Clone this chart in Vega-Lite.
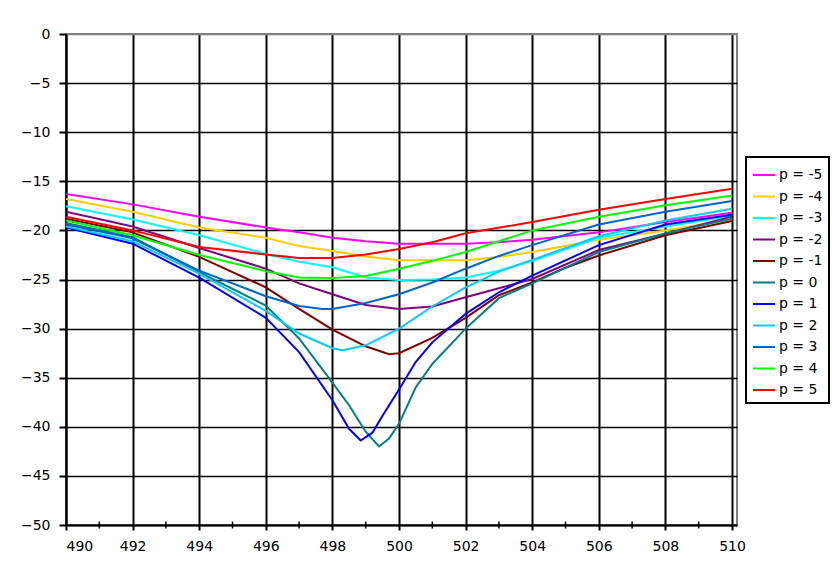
{
  "$schema": "https://vega.github.io/schema/vega-lite/v6.json",
  "width": 671,
  "height": 491,
  "autosize": {"type": "none"},
  "padding": {"left": 66, "top": 34, "right": 95, "bottom": 42},
  "background": "white",
  "config": {
    "font": "DejaVu Sans",
    "view": {"stroke": "#808080", "strokeWidth": 2},
    "legend": {"strokeColor": "black", "strokeWidth": 2},
    "axis": {
      "labelFont": "DejaVu Sans",
      "labelFontSize": 14,
      "labelColor": "black",
      "domainColor": "black",
      "domainWidth": 2,
      "tickColor": "black",
      "tickWidth": 2,
      "gridColor": "black",
      "gridOpacity": 1,
      "title": null
    }
  },
  "datasets": {
    "curves": [
      {"series": "p = -5", "x": 490, "y": -16.3}, {"series": "p = -5", "x": 492, "y": -17.35}, {"series": "p = -5", "x": 494, "y": -18.6}, {"series": "p = -5", "x": 496, "y": -19.7}, {"series": "p = -5", "x": 497, "y": -20.2}, {"series": "p = -5", "x": 498, "y": -20.75}, {"series": "p = -5", "x": 499, "y": -21.1}, {"series": "p = -5", "x": 500, "y": -21.35}, {"series": "p = -5", "x": 501, "y": -21.35}, {"series": "p = -5", "x": 502, "y": -21.35}, {"series": "p = -5", "x": 503, "y": -21.2}, {"series": "p = -5", "x": 504, "y": -20.95}, {"series": "p = -5", "x": 506, "y": -20.2}, {"series": "p = -5", "x": 508, "y": -19.15}, {"series": "p = -5", "x": 510, "y": -18.2},

      {"series": "p = -4", "x": 490, "y": -16.8}, {"series": "p = -4", "x": 492, "y": -18.1}, {"series": "p = -4", "x": 494, "y": -19.7}, {"series": "p = -4", "x": 496, "y": -20.75}, {"series": "p = -4", "x": 497, "y": -21.6}, {"series": "p = -4", "x": 498, "y": -22.1}, {"series": "p = -4", "x": 499, "y": -22.65}, {"series": "p = -4", "x": 500, "y": -23.05}, {"series": "p = -4", "x": 501, "y": -23.05}, {"series": "p = -4", "x": 502, "y": -23.05}, {"series": "p = -4", "x": 503, "y": -22.7}, {"series": "p = -4", "x": 504, "y": -22.2}, {"series": "p = -4", "x": 506, "y": -20.95}, {"series": "p = -4", "x": 508, "y": -20.0}, {"series": "p = -4", "x": 510, "y": -18.9},

      {"series": "p = -3", "x": 490, "y": -17.55}, {"series": "p = -3", "x": 492, "y": -18.9}, {"series": "p = -3", "x": 494, "y": -20.5}, {"series": "p = -3", "x": 496, "y": -22.4}, {"series": "p = -3", "x": 497, "y": -23.2}, {"series": "p = -3", "x": 498, "y": -23.75}, {"series": "p = -3", "x": 499, "y": -24.8}, {"series": "p = -3", "x": 500, "y": -25.05}, {"series": "p = -3", "x": 501, "y": -25.0}, {"series": "p = -3", "x": 502, "y": -24.8}, {"series": "p = -3", "x": 503, "y": -24.1}, {"series": "p = -3", "x": 504, "y": -23.1}, {"series": "p = -3", "x": 506, "y": -20.75}, {"series": "p = -3", "x": 508, "y": -19.6}, {"series": "p = -3", "x": 510, "y": -18.5},

      {"series": "p = -2", "x": 490, "y": -18.1}, {"series": "p = -2", "x": 492, "y": -19.6}, {"series": "p = -2", "x": 494, "y": -21.8}, {"series": "p = -2", "x": 496, "y": -23.9}, {"series": "p = -2", "x": 497, "y": -25.4}, {"series": "p = -2", "x": 498, "y": -26.5}, {"series": "p = -2", "x": 499, "y": -27.6}, {"series": "p = -2", "x": 500, "y": -28.0}, {"series": "p = -2", "x": 501, "y": -27.75}, {"series": "p = -2", "x": 502, "y": -26.8}, {"series": "p = -2", "x": 503, "y": -25.9}, {"series": "p = -2", "x": 504, "y": -24.95}, {"series": "p = -2", "x": 506, "y": -22.0}, {"series": "p = -2", "x": 508, "y": -20.35}, {"series": "p = -2", "x": 510, "y": -18.6},

      {"series": "p = -1", "x": 490, "y": -18.8}, {"series": "p = -1", "x": 492, "y": -20.2}, {"series": "p = -1", "x": 494, "y": -22.7}, {"series": "p = -1", "x": 496, "y": -25.8}, {"series": "p = -1", "x": 497, "y": -28.0}, {"series": "p = -1", "x": 498, "y": -30.1}, {"series": "p = -1", "x": 499, "y": -31.8}, {"series": "p = -1", "x": 499.7, "y": -32.6}, {"series": "p = -1", "x": 500, "y": -32.5}, {"series": "p = -1", "x": 501, "y": -30.95}, {"series": "p = -1", "x": 502, "y": -28.9}, {"series": "p = -1", "x": 503, "y": -26.6}, {"series": "p = -1", "x": 504, "y": -25.3}, {"series": "p = -1", "x": 505, "y": -23.8}, {"series": "p = -1", "x": 506, "y": -22.55}, {"series": "p = -1", "x": 508, "y": -20.5}, {"series": "p = -1", "x": 510, "y": -19.05},

      {"series": "p = 0", "x": 490, "y": -19.25}, {"series": "p = 0", "x": 492, "y": -20.7}, {"series": "p = 0", "x": 494, "y": -24.25}, {"series": "p = 0", "x": 496, "y": -27.65}, {"series": "p = 0", "x": 497, "y": -31.0}, {"series": "p = 0", "x": 498, "y": -35.5}, {"series": "p = 0", "x": 498.5, "y": -37.8}, {"series": "p = 0", "x": 499, "y": -40.5}, {"series": "p = 0", "x": 499.4, "y": -42.0}, {"series": "p = 0", "x": 499.7, "y": -41.2}, {"series": "p = 0", "x": 500, "y": -39.7}, {"series": "p = 0", "x": 500.5, "y": -36.0}, {"series": "p = 0", "x": 501, "y": -33.6}, {"series": "p = 0", "x": 502, "y": -30.0}, {"series": "p = 0", "x": 503, "y": -26.9}, {"series": "p = 0", "x": 504, "y": -25.4}, {"series": "p = 0", "x": 506, "y": -22.2}, {"series": "p = 0", "x": 508, "y": -20.3}, {"series": "p = 0", "x": 510, "y": -18.8},

      {"series": "p = 1", "x": 490, "y": -19.7}, {"series": "p = 1", "x": 492, "y": -21.35}, {"series": "p = 1", "x": 494, "y": -24.8}, {"series": "p = 1", "x": 496, "y": -28.9}, {"series": "p = 1", "x": 497, "y": -32.4}, {"series": "p = 1", "x": 498, "y": -37.3}, {"series": "p = 1", "x": 498.5, "y": -40.2}, {"series": "p = 1", "x": 498.85, "y": -41.4}, {"series": "p = 1", "x": 499.2, "y": -40.6}, {"series": "p = 1", "x": 499.5, "y": -38.9}, {"series": "p = 1", "x": 500, "y": -36.2}, {"series": "p = 1", "x": 500.5, "y": -33.4}, {"series": "p = 1", "x": 501, "y": -31.4}, {"series": "p = 1", "x": 502, "y": -28.5}, {"series": "p = 1", "x": 503, "y": -26.3}, {"series": "p = 1", "x": 504, "y": -24.6}, {"series": "p = 1", "x": 506, "y": -21.5}, {"series": "p = 1", "x": 508, "y": -19.4}, {"series": "p = 1", "x": 510, "y": -18.4},

      {"series": "p = 2", "x": 490, "y": -19.6}, {"series": "p = 2", "x": 492, "y": -21.1}, {"series": "p = 2", "x": 494, "y": -24.4}, {"series": "p = 2", "x": 496, "y": -28.2}, {"series": "p = 2", "x": 497, "y": -30.5}, {"series": "p = 2", "x": 498, "y": -32.0}, {"series": "p = 2", "x": 498.3, "y": -32.2}, {"series": "p = 2", "x": 499, "y": -31.7}, {"series": "p = 2", "x": 500, "y": -30.0}, {"series": "p = 2", "x": 501, "y": -27.75}, {"series": "p = 2", "x": 502, "y": -25.8}, {"series": "p = 2", "x": 503, "y": -24.2}, {"series": "p = 2", "x": 504, "y": -23.0}, {"series": "p = 2", "x": 506, "y": -20.6}, {"series": "p = 2", "x": 508, "y": -19.0}, {"series": "p = 2", "x": 510, "y": -17.8},

      {"series": "p = 3", "x": 490, "y": -19.4}, {"series": "p = 3", "x": 492, "y": -20.8}, {"series": "p = 3", "x": 494, "y": -24.1}, {"series": "p = 3", "x": 496, "y": -26.7}, {"series": "p = 3", "x": 497, "y": -27.7}, {"series": "p = 3", "x": 497.7, "y": -28.0}, {"series": "p = 3", "x": 498, "y": -28.0}, {"series": "p = 3", "x": 499, "y": -27.4}, {"series": "p = 3", "x": 500, "y": -26.5}, {"series": "p = 3", "x": 501, "y": -25.3}, {"series": "p = 3", "x": 502, "y": -23.9}, {"series": "p = 3", "x": 503, "y": -22.6}, {"series": "p = 3", "x": 504, "y": -21.5}, {"series": "p = 3", "x": 506, "y": -19.4}, {"series": "p = 3", "x": 508, "y": -18.1}, {"series": "p = 3", "x": 510, "y": -17.0},

      {"series": "p = 4", "x": 490, "y": -19.0}, {"series": "p = 4", "x": 492, "y": -20.5}, {"series": "p = 4", "x": 494, "y": -22.5}, {"series": "p = 4", "x": 496, "y": -24.15}, {"series": "p = 4", "x": 497, "y": -24.8}, {"series": "p = 4", "x": 498, "y": -24.85}, {"series": "p = 4", "x": 499, "y": -24.65}, {"series": "p = 4", "x": 500, "y": -23.9}, {"series": "p = 4", "x": 501, "y": -23.1}, {"series": "p = 4", "x": 502, "y": -22.2}, {"series": "p = 4", "x": 504, "y": -20.0}, {"series": "p = 4", "x": 506, "y": -18.6}, {"series": "p = 4", "x": 508, "y": -17.45}, {"series": "p = 4", "x": 510, "y": -16.45},

      {"series": "p = 5", "x": 490, "y": -18.6}, {"series": "p = 5", "x": 492, "y": -20.0}, {"series": "p = 5", "x": 494, "y": -21.7}, {"series": "p = 5", "x": 496, "y": -22.45}, {"series": "p = 5", "x": 497, "y": -22.8}, {"series": "p = 5", "x": 498, "y": -22.8}, {"series": "p = 5", "x": 499, "y": -22.45}, {"series": "p = 5", "x": 500, "y": -21.9}, {"series": "p = 5", "x": 501, "y": -21.2}, {"series": "p = 5", "x": 502, "y": -20.3}, {"series": "p = 5", "x": 504, "y": -19.15}, {"series": "p = 5", "x": 506, "y": -17.9}, {"series": "p = 5", "x": 508, "y": -16.8}, {"series": "p = 5", "x": 510, "y": -15.75}
    ],
    "minorTicks": [
      {"x": 491}, {"x": 493}, {"x": 495}, {"x": 497}, {"x": 499},
      {"x": 501}, {"x": 503}, {"x": 505}, {"x": 507}, {"x": 509}
    ]
  },
  "layer": [
    {
      "data": {"name": "curves"},
      "mark": {"type": "line", "clip": true},
      "encoding": {
        "x": {
          "field": "x",
          "type": "quantitative",
          "scale": {"domain": [490, 510.15], "nice": false, "zero": false},
          "axis": {
            "values": [490, 492, 494, 496, 498, 500, 502, 504, 506, 508, 510],
            "tickSize": 5,
            "labelPadding": 9,
            "gridWidth": 2
          }
        },
        "y": {
          "field": "y",
          "type": "quantitative",
          "scale": {"domain": [-50, 0], "nice": false, "zero": false},
          "axis": {
            "values": [0, -5, -10, -15, -20, -25, -30, -35, -40, -45, -50],
            "tickSize": 7,
            "labelPadding": 9,
            "gridWidth": 1.5,
            "gridColor": {"condition": {"test": "datum.value === 0", "value": "#808080"}, "value": "black"}
          }
        },
        "color": {
          "field": "series",
          "type": "nominal",
          "sort": null,
          "scale": {
            "domain": ["p = -5", "p = -4", "p = -3", "p = -2", "p = -1", "p = 0", "p = 1", "p = 2", "p = 3", "p = 4", "p = 5"],
            "range": ["#FF00FF", "#FFCC00", "#00FFFF", "#800080", "#800000", "#008080", "#0000FF", "#00CCFF", "#0066CC", "#00FF00", "#FF0000"]
          },
          "legend": {
            "title": null,
            "orient": "none",
            "legendX": 680,
            "legendY": 123,
            "symbolType": "stroke",
            "symbolSize": 484,
            "symbolStrokeWidth": 2,
            "labelFont": "DejaVu Sans",
            "labelFontSize": 14,
            "labelColor": "black",
            "labelOffset": 3,
            "rowPadding": 2.5,
            "padding": 6,
            "strokeColor": "black",
            "fillColor": "white"
          }
        },
        "strokeWidth": {
          "field": "series",
          "type": "nominal",
          "scale": {
            "domain": ["p = -5", "p = -4", "p = -3", "p = -2", "p = -1", "p = 0", "p = 1", "p = 2", "p = 3", "p = 4", "p = 5"],
            "range": [2, 2, 2, 1.3, 2, 1.6, 1.8, 2, 1.3, 2, 2]
          },
          "legend": null
        }
      }
    },
    {
      "data": {"name": "minorTicks"},
      "mark": {"type": "tick", "orient": "vertical", "color": "black", "size": 7, "thickness": 1.5, "opacity": 1, "clip": false},
      "encoding": {
        "x": {"field": "x", "type": "quantitative"},
        "y": {"datum": -50}
      }
    }
  ]
}
